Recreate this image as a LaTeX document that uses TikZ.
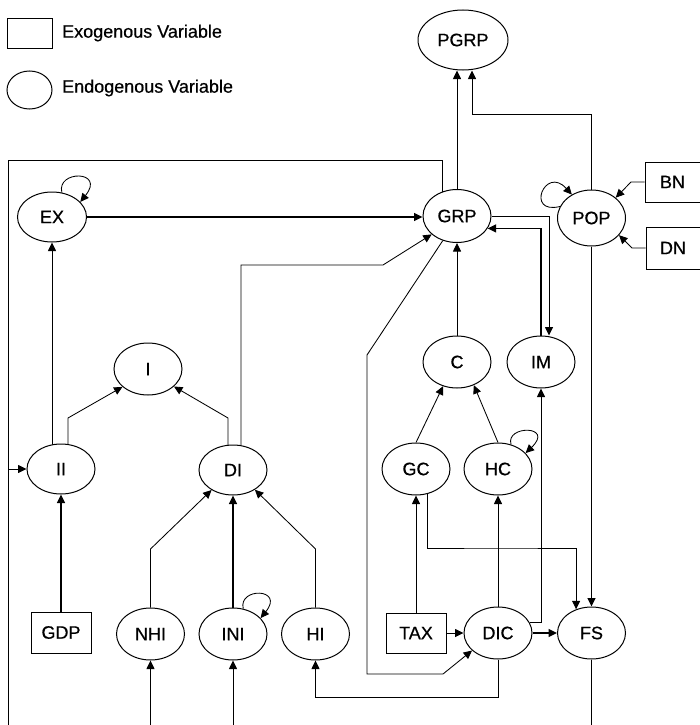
\documentclass[tikz,border=0pt]{standalone}
\usepackage{fontspec}
\setmainfont{Liberation Sans}[FakeBold=0.6]
\usetikzlibrary{arrows.meta,shapes.geometric,backgrounds}
\begin{document}
\begin{tikzpicture}[x=1pt,y=-1pt,
  every node/.style={font=\fontsize{18}{20}\selectfont},
  endo/.style={ellipse,draw,line width=1pt,fill=white,minimum width=68pt,minimum height=52pt,inner sep=0pt},
  exo/.style={rectangle,draw,line width=1pt,fill=white,minimum width=60pt,minimum height=41pt,inner sep=0pt},
  conn/.style={line width=0.85pt},
  thk/.style={line width=1.4pt},
  arr/.style={-{Triangle[length=8.5pt,width=8pt]}},
  lbl/.style={anchor=west,inner sep=0pt}]
\useasboundingbox (0,0) rectangle (700,725);

% legend
\node[exo,minimum width=45pt,minimum height=30pt] (lgx) at (29.5,34) {};
\node[endo,minimum width=45pt,minimum height=38pt] (lgn) at (29.5,90) {};
\node[lbl] (lgxt) at (62,33) {Exogenous Variable};
\node[lbl] (lgnt) at (62,88) {Endogenous Variable};

% nodes
\node[endo,minimum width=90pt,minimum height=60pt] (PGRP) at (463,40) {PGRP};
\node[endo,minimum width=69pt,minimum height=50pt] (EX) at (52,217) {EX};
\node[endo,minimum height=53pt] (GRP) at (457,216) {GRP};
\node[endo,minimum height=56pt] (POP) at (591.5,218) {POP};
\node[exo,minimum width=55pt,minimum height=40pt] (BN) at (672.5,182) {BN};
\node[exo,minimum width=54pt,minimum height=42pt] (DN) at (673,248) {DN};
\node[endo] (I) at (148,369) {I};
\node[endo] (C) at (457,362) {C};
\node[endo] (IM) at (541,362) {IM};
\node[endo,minimum height=50pt] (II) at (61,469) {II};
\node[endo,minimum height=50pt] (DI) at (233,470) {DI};
\node[endo] (GC) at (416,469) {GC};
\node[endo] (HC) at (498,469) {HC};
\node[exo] (GDP) at (61,632.5) {GDP};
\node[endo] (NHI) at (150.5,634) {NHI};
\node[endo] (INI) at (233,634) {INI};
\node[endo] (HI) at (315.5,634) {HI};
\node[exo,minimum height=40pt] (TAX) at (416,633) {TAX};
\node[endo] (DIC) at (498,633) {DIC};
\node[endo] (FS) at (591.5,633) {FS};

\coordinate (Lb) at (8,725);
\coordinate (NHIin) at (150.5,725);
\coordinate (INIin) at (233,725);
\coordinate (FSout) at (591.5,725);

\begin{pgfonlayer}{background}
\draw[conn,arr] (GRP.north) -- (GRP.north |- PGRP.south);
\draw[conn,arr] (POP.north) |- (472,114) -- ([xshift=9pt]PGRP.south);
\draw[conn] ([xshift=-15pt]GRP.center) |- (8,160) -- (Lb);
\draw[conn,arr] (8,469) -- (II.west);
\draw[thk,arr] (EX.east) -- (EX.east -| GRP.west);
\draw[conn,arr] ([xshift=-9pt]II.center) -- (EX.south);
\draw[conn,arr] ([xshift=7pt]II.center) -- (68,418) -- (I.-145);
\draw[conn,arr] ([xshift=-5pt]DI.center) -- (228,418) -- (I.-34);
\draw[conn,arr] ([xshift=8pt]DI.center) -- (241,265) -- (383,265) -- (GRP.-144);
\draw[conn,arr] (C.north) -- (GRP.south);
\draw[conn,arr] (GRP.east) -| ([xshift=8pt]IM.north);
\draw[thk,arr] (IM.north) |- (GRP.-22);
\draw[conn,arr] (DIC.18) -| (IM.south);
\draw[conn,arr] (GC.north) -- (C.-120);
\draw[conn,arr] (HC.north) -- (C.-54);
\draw[conn,arr] (TAX.north) -- (GC.south);
\draw[conn,arr] ([xshift=11pt]GC.center) |- (500,548) -| (FS.123);
\draw[conn,arr] (DIC.north) -- (HC.south);
\draw[thk,arr] (POP.south) -- (FS.north);
\draw[conn,arr] (TAX.east) -- (DIC.west);
\draw[thk,arr] (DIC.east) -- (FS.west);
\draw[conn] (FS.south) -- (FSout);
\draw[conn,arr] (GRP.-120) -- (367,355) -- (367,674) -- (443,674) -- (DIC.-146);
\draw[conn,arr] (DIC.south) -- (498,697) -| (HI.south);
\draw[conn,arr] (NHI.north) -- (150.5,549) -- (DI.-137);
\draw[thk,arr] (INI.north) -- (DI.south);
\draw[conn,arr] (HI.north) -- (315.5,549) -- (DI.-42);
\draw[thk,arr] (GDP.north) -- (II.south);
\draw[conn,arr] (NHIin) -- (NHI.south);
\draw[conn,arr] (INIin) -- (INI.south);
\draw[conn,arr] (BN.west) -- (631,182) -- (POP.40);
\draw[conn,arr] (DN.west) -- (632,248) -- (POP.-32);
% self loops
\draw[conn,arr] (EX.68) .. controls (56,170) and (106,170) .. (EX.28);
\draw[conn,arr] (POP.160) .. controls (525,215) and (545,165) .. (POP.130);
\draw[conn,arr] (HC.62) .. controls (505,425) and (555,425) .. (HC.30);
\draw[conn,arr] (INI.68) .. controls (238,587) and (285,588) .. (INI.30);
\end{pgfonlayer}
\end{tikzpicture}
\end{document}
